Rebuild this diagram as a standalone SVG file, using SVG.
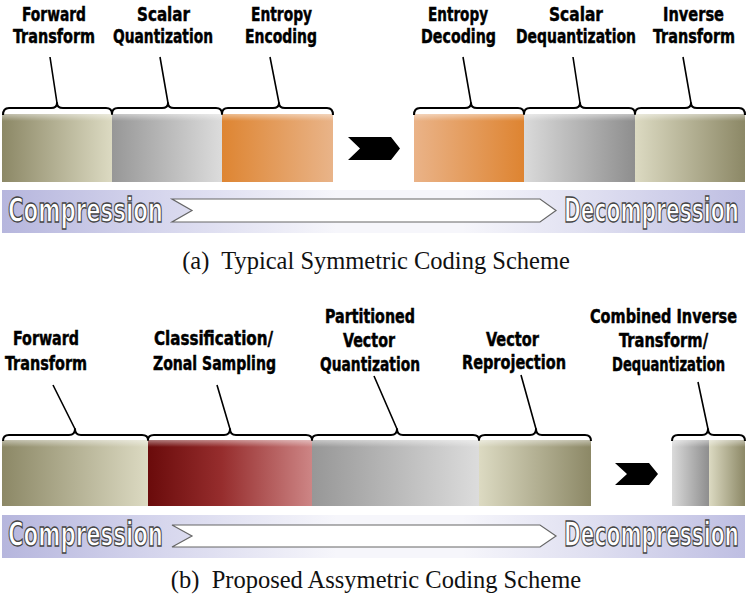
<svg xmlns="http://www.w3.org/2000/svg" width="752" height="599" viewBox="0 0 752 599">
<defs>
<linearGradient id="olive"><stop offset="0" stop-color="#8c8866"/><stop offset="1" stop-color="#dcdac2"/></linearGradient>
<linearGradient id="oliveR"><stop offset="0" stop-color="#dcdac2"/><stop offset="1" stop-color="#8c8866"/></linearGradient>
<linearGradient id="gray"><stop offset="0" stop-color="#979797"/><stop offset="1" stop-color="#dcdcdc"/></linearGradient>
<linearGradient id="grayR"><stop offset="0" stop-color="#dadada"/><stop offset="1" stop-color="#8e8e8e"/></linearGradient>
<linearGradient id="orange"><stop offset="0" stop-color="#de8532"/><stop offset="1" stop-color="#e9b489"/></linearGradient>
<linearGradient id="orangeR"><stop offset="0" stop-color="#eab388"/><stop offset="1" stop-color="#de8431"/></linearGradient>
<linearGradient id="maroon"><stop offset="0" stop-color="#6a0b0b"/><stop offset="0.45" stop-color="#962d2d"/><stop offset="1" stop-color="#cd8585"/></linearGradient>
<linearGradient id="bar"><stop offset="0" stop-color="#b6b6dd"/><stop offset="0.2" stop-color="#d4d4ec"/><stop offset="0.45" stop-color="#f6f6fb"/><stop offset="0.62" stop-color="#f6f6fb"/><stop offset="0.8" stop-color="#dedef0"/><stop offset="1" stop-color="#bebee2"/></linearGradient>
<linearGradient id="hl" x1="0" y1="0" x2="0" y2="1"><stop offset="0" stop-color="#fff" stop-opacity="0.45"/><stop offset="1" stop-color="#fff" stop-opacity="0"/></linearGradient>
</defs>
<style>
.lbl{font-family:"Liberation Sans Narrow","DejaVu Sans Condensed","DejaVu Sans","Liberation Sans",sans-serif;font-stretch:condensed;font-weight:bold;font-size:20px;fill:#000;stroke:#000;stroke-width:0.45;text-anchor:middle}
.lb2{font-size:19px}
.brace{fill:none;stroke:#000;stroke-width:2;stroke-linejoin:round}
.lead{fill:none;stroke:#000;stroke-width:1.6}
.outl{font-family:"Liberation Sans Narrow","DejaVu Sans Condensed","DejaVu Sans","Liberation Sans",sans-serif;font-stretch:condensed;font-weight:bold;font-size:34px;fill:#fff;stroke:#444;stroke-width:1.3}
.warrow{fill:#fff;stroke:#666;stroke-width:1.2}
.cap{font-family:"Liberation Serif","Times New Roman",serif;font-size:24.5px;fill:#111}
</style>

<!-- (a) Symmetric -->
<g id="a-forward">
<rect x="2" y="114" width="110" height="68" fill="url(#olive)"/>
<text class="lbl" x="54" y="21" textLength="64" lengthAdjust="spacingAndGlyphs">Forward</text>
<text class="lbl" x="54" y="43" textLength="82" lengthAdjust="spacingAndGlyphs">Transform</text>
</g>
<g id="a-scalar-q">
<rect x="112" y="114" width="110" height="68" fill="url(#gray)"/>
<text class="lbl" x="163.5" y="21" textLength="53" lengthAdjust="spacingAndGlyphs">Scalar</text>
<text class="lbl" x="163" y="43" textLength="100" lengthAdjust="spacingAndGlyphs">Quantization</text>
</g>
<g id="a-entropy-enc">
<rect x="222" y="114" width="111" height="68" fill="url(#orange)"/>
<text class="lbl" x="281.5" y="21" textLength="61" lengthAdjust="spacingAndGlyphs">Entropy</text>
<text class="lbl" x="281" y="43" textLength="72" lengthAdjust="spacingAndGlyphs">Encoding</text>
</g>
<g id="a-entropy-dec">
<rect x="414" y="114" width="110" height="68" fill="url(#orangeR)"/>
<text class="lbl" x="458" y="21" textLength="60" lengthAdjust="spacingAndGlyphs">Entropy</text>
<text class="lbl" x="458.5" y="43" textLength="75" lengthAdjust="spacingAndGlyphs">Decoding</text>
</g>
<g id="a-scalar-deq">
<rect x="524" y="114" width="111" height="68" fill="url(#grayR)"/>
<text class="lbl" x="576" y="21" textLength="54" lengthAdjust="spacingAndGlyphs">Scalar</text>
<text class="lbl" x="576" y="43" textLength="120" lengthAdjust="spacingAndGlyphs">Dequantization</text>
</g>
<g id="a-inverse">
<rect x="635" y="114" width="110" height="68" fill="url(#oliveR)"/>
<text class="lbl" x="693.5" y="21" textLength="61" lengthAdjust="spacingAndGlyphs">Inverse</text>
<text class="lbl" x="694" y="43" textLength="82" lengthAdjust="spacingAndGlyphs">Transform</text>
</g>
<rect x="2" y="114" width="331" height="7" fill="url(#hl)"/>
<rect x="414" y="114" width="331" height="7" fill="url(#hl)"/>

<g id="a-bar">
<rect x="2" y="190" width="743" height="43" fill="url(#bar)"/>
<polygon class="warrow" points="172,199 540,199 556,210.5 540,222 172,222 192,210.5"/>
<text class="outl" x="8" y="222" textLength="155" lengthAdjust="spacingAndGlyphs">Compression</text>
<text class="outl" x="564" y="222" textLength="175" lengthAdjust="spacingAndGlyphs">Decompression</text>
</g>

<g id="a-caption">
<text class="cap" x="376" y="269" text-anchor="middle" xml:space="preserve">(a)  Typical Symmetric Coding Scheme</text>
</g>

<!-- (b) Asymmetric -->
<g id="b-forward">
<rect x="2" y="440" width="146" height="66" fill="url(#olive)"/>
<text class="lbl lb2" x="46" y="345" textLength="66" lengthAdjust="spacingAndGlyphs">Forward</text>
<text class="lbl lb2" x="46" y="370" textLength="82" lengthAdjust="spacingAndGlyphs">Transform</text>
</g>
<g id="b-classification">
<rect x="148" y="440" width="164" height="66" fill="url(#maroon)"/>
<text class="lbl lb2" x="213.5" y="345" textLength="119" lengthAdjust="spacingAndGlyphs">Classification/</text>
<text class="lbl lb2" x="214.5" y="370" textLength="123" lengthAdjust="spacingAndGlyphs">Zonal Sampling</text>
</g>
<g id="b-pvq">
<rect x="312" y="440" width="167" height="66" fill="url(#gray)"/>
<text class="lbl lb2" x="370" y="323" textLength="90" lengthAdjust="spacingAndGlyphs">Partitioned</text>
<text class="lbl lb2" x="369" y="347" textLength="52" lengthAdjust="spacingAndGlyphs">Vector</text>
<text class="lbl lb2" x="370" y="371" textLength="100" lengthAdjust="spacingAndGlyphs">Quantization</text>
</g>
<g id="b-reprojection">
<rect x="479" y="440" width="112" height="66" fill="url(#oliveR)"/>
<text class="lbl lb2" x="512.5" y="346" textLength="53" lengthAdjust="spacingAndGlyphs">Vector</text>
<text class="lbl lb2" x="514" y="369" textLength="104" lengthAdjust="spacingAndGlyphs">Reprojection</text>
</g>
<g id="b-combined">
<rect x="672" y="440" width="37" height="66" fill="url(#grayR)"/>
<rect x="709" y="440" width="36" height="66" fill="url(#oliveR)"/>
<text class="lbl lb2" x="663.5" y="323" textLength="147" lengthAdjust="spacingAndGlyphs">Combined Inverse</text>
<text class="lbl lb2" x="663.5" y="347" textLength="89" lengthAdjust="spacingAndGlyphs">Transform/</text>
<text class="lbl lb2" x="668.5" y="371" textLength="113" lengthAdjust="spacingAndGlyphs">Dequantization</text>
</g>
<rect x="2" y="440" width="589" height="7" fill="url(#hl)"/>
<rect x="672" y="440" width="73" height="7" fill="url(#hl)"/>

<g id="b-bar">
<rect x="2" y="515" width="743" height="43" fill="url(#bar)"/>
<polygon class="warrow" points="172,525 540,525 556,536 540,547 172,547 192,536"/>
<text class="outl" x="8" y="546" textLength="155" lengthAdjust="spacingAndGlyphs">Compression</text>
<text class="outl" x="564" y="546" textLength="175" lengthAdjust="spacingAndGlyphs">Decompression</text>
</g>

<g id="b-caption">
<text class="cap" x="376" y="588" text-anchor="middle" xml:space="preserve">(b)  Proposed Assymetric Coding Scheme</text>
</g>

<g id="connectors">
<path class="brace" d="M3,115 Q3,108 9,108 L51,108 Q57,108 57,103 Q57,108 63,108 L106,108 Q112,108 112,114 Q112,108 118,108 L162,108 Q168,108 168,103 Q168,108 174,108 L216,108 Q222,108 222,114 Q222,108 228,108 L273,108 Q279,108 279,103 Q279,108 285,108 L327,108 Q333,108 333,115"/>
<path class="brace" d="M414,115 Q414,108 420,108 L465,108 Q471,108 471,103 Q471,108 477,108 L518,108 Q524,108 524,114 Q524,108 530,108 L574,108 Q580,108 580,103 Q580,108 586,108 L629,108 Q635,108 635,114 Q635,108 641,108 L685,108 Q691,108 691,103 Q691,108 697,108 L739,108 Q745,108 745,115"/>
<path class="lead" d="M50,57 L57,103 M160,57 L168,103 M270,57 L279,103 M463,57 L471,103 M573,57 L580,103 M683,57 L691,103"/>
<polygon points="348,137 391,137 400,148.5 391,160 348,160 360,148.5" fill="#000"/>
<path class="brace" d="M3,441 Q3,435 9,435 L69,435 Q75,435 75,429 Q75,435 81,435 L142,435 Q148,435 148,440 Q148,435 154,435 L224,435 Q230,435 230,429 Q230,435 236,435 L306,435 Q312,435 312,440 Q312,435 318,435 L391,435 Q397,435 397,429 Q397,435 403,435 L473,435 Q479,435 479,440 Q479,435 485,435 L530,435 Q536,435 536,429 Q536,435 542,435 L585,435 Q591,435 591,441"/>
<path class="brace" d="M672,441 Q672,435 678,435 L702,435 Q708,435 708,429 Q708,435 714,435 L739,435 Q745,435 745,441"/>
<path class="lead" d="M53,385 L75,429 M217,385 L230,429 M374,376 L397,429 M521,375 L536,429 M698,382 L708,429"/>
<polygon points="615,463 649,463 658,474 649,485 615,485 627,474" fill="#000"/>
</g>
</svg>
